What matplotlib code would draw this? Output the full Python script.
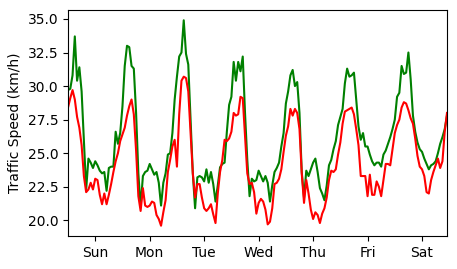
import matplotlib
matplotlib.use("Agg")
import matplotlib.pyplot as plt
import numpy as np

day_labels = ["Sun", "Mon", "Tue", "Wed", "Thu", "Fri", "Sat"]

# hourly speeds (km/h), one row per day
speed_green = [
    29.7, 29.8, 30.8, 33.7, 30.4, 31.4, 29.6, 26.0, 22.3, 24.6, 24.3, 23.9, 24.4, 24.1, 23.7, 23.5, 23.6, 22.2, 23.9, 24.0, 24.0, 26.6, 25.7, 26.5,
    28.5, 31.5, 33.0, 32.9, 31.5, 31.3, 28.0, 23.5, 21.0, 23.3, 23.6, 23.7, 24.2, 23.8, 23.4, 23.6, 22.8, 21.1, 22.8, 23.5, 24.9, 25.0, 26.5, 29.0,
    30.7, 32.2, 32.5, 34.9, 32.4, 31.6, 27.6, 23.5, 20.9, 23.2, 23.3, 23.2, 22.9, 23.8, 22.8, 23.6, 22.7, 21.4, 22.6, 23.95, 24.2, 24.3, 26.6, 28.6,
    29.2, 31.8, 30.4, 31.8, 31.1, 32.2, 28.0, 24.5, 21.8, 23.1, 22.9, 23.0, 23.7, 23.3, 22.9, 23.3, 22.8, 21.4, 22.6, 23.6, 23.9, 24.3, 25.5, 26.5,
    28.7, 29.6, 30.8, 31.2, 30.0, 30.3, 28.0, 23.6, 21.7, 23.7, 23.3, 23.8, 24.3, 24.6, 23.6, 22.4, 22.0, 21.5, 22.6, 24.1, 24.5, 25.3, 25.9, 27.1,
    27.7, 28.3, 30.2, 31.3, 30.7, 30.8, 31.0, 29.0, 27.0, 26.0, 26.5, 25.5, 25.5, 24.9, 24.4, 24.1, 24.3, 24.3, 24.0, 24.9, 25.2, 25.7, 26.2, 26.8,
    27.5, 29.2, 29.5, 31.5, 30.9, 31.0, 32.5, 30.5, 27.8, 26.6, 25.8, 25.3, 25.1, 24.6, 24.2, 23.8, 24.1, 24.2, 24.4, 25.0, 25.7, 26.2, 26.8, 27.8,
]

speed_red = [
    28.4, 29.1, 29.7, 29.0, 27.7, 26.9, 25.6, 23.3, 22.1, 22.3, 22.8, 22.3, 23.1, 23.0, 21.9, 21.2, 22.0, 21.2, 21.9, 22.7, 23.6, 24.4, 25.0, 25.9,
    26.4, 26.9, 27.8, 28.5, 29.0, 27.9, 25.2, 21.8, 20.7, 22.4, 21.1, 21.0, 21.1, 21.4, 21.3, 20.4, 20.1, 19.6, 20.6, 21.5, 23.6, 24.5, 25.5, 26.0,
    24.0, 27.9, 30.4, 30.7, 30.6, 29.6, 26.6, 23.5, 21.7, 22.7, 22.7, 21.7, 20.9, 20.7, 20.9, 21.2, 20.45, 19.8, 22.0, 23.6, 24.5, 26.0, 25.9, 26.1,
    26.6, 28.0, 27.8, 27.9, 29.2, 29.1, 26.3, 23.5, 22.7, 22.8, 22.1, 20.5, 21.3, 21.6, 21.4, 20.8, 19.7, 19.9, 20.9, 22.7, 22.8, 23.1, 23.8, 25.1,
    26.3, 27.0, 28.3, 27.8, 28.3, 28.0, 26.8, 23.5, 21.3, 23.0, 22.0, 20.8, 20.1, 20.6, 20.4, 19.8, 20.5, 20.9, 21.7, 23.0, 23.7, 23.6, 23.8, 24.9,
    25.8, 27.2, 28.1, 28.2, 28.3, 28.4, 27.9, 26.8, 25.6, 23.3, 23.3, 23.3, 21.8, 23.4, 21.9, 21.9, 22.9, 22.5, 21.8, 23.0, 24.2, 24.2, 24.1, 25.3,
    26.5, 27.1, 27.5, 28.4, 28.8, 28.7, 28.2, 27.6, 27.2, 26.1, 24.8, 24.0, 23.8, 23.3, 22.1, 22.0, 23.0, 23.6, 24.1, 24.6, 23.9, 24.4, 26.6, 28.0,
]

hours = np.arange(len(speed_green))

fig = plt.figure(figsize=(4.57, 2.69), dpi=100)
ax = fig.add_axes([0.1488, 0.1227, 0.8293, 0.8401])

ax.plot(hours, speed_green, color="green", linewidth=1.5)
ax.plot(hours, speed_red, color="red", linewidth=1.5)

ax.set_xlim(hours[0], hours[-1])
ax.set_xticks(np.arange(len(day_labels)) * 24 + 12)
ax.set_xticklabels(day_labels)
ax.set_ylabel("Traffic Speed (km/h)")

fig.savefig("out.png", dpi=100)
